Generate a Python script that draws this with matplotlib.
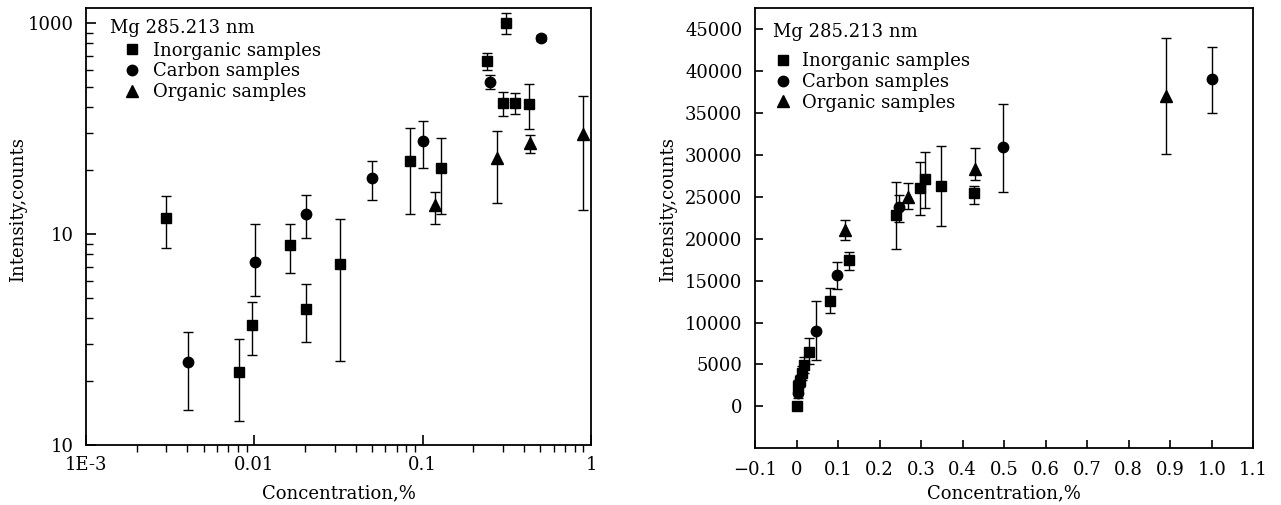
import matplotlib
matplotlib.use("Agg")
import matplotlib.pyplot as plt
import numpy as np
from matplotlib.lines import Line2D
from matplotlib.ticker import FixedLocator, FixedFormatter, NullFormatter

plt.rcParams['font.family'] = ['DejaVu Serif']
FS = 13

# ---------------- Left (log-log) data ----------------
L_inorg_x = [0.003, 0.0081, 0.0097, 0.0163, 0.0203, 0.0323, 0.084, 0.128, 0.242, 0.313, 0.302, 0.354, 0.43]
L_inorg_y = [119, 22.2, 37.0, 88.7, 44.1, 71.8, 222, 206, 661, 997, 416, 416, 413]
L_inorg_lo = [86, 13.0, 26.7, 65.2, 30.7, 25.0, 125, 125, 598, 884, 364, 369, 313]
L_inorg_hi = [151, 31.8, 47.7, 111, 57.8, 118, 317, 286, 718, 1111, 472, 468, 514]

L_carb_x = [0.00406, 0.0101, 0.0203, 0.0502, 0.100, 0.251, 0.504]
L_carb_y = [24.7, 73.9, 124, 184, 275, 527, 847]
L_carb_lo = [14.7, 50.8, 95.9, 145, 205, 485, 820]
L_carb_hi = [34.4, 111, 153, 222, 344, 567, 875]

L_org_x = [0.119, 0.275, 0.435, 0.90]
L_org_y = [137, 230, 271, 297]
L_org_lo = [111, 141, 241, 130]
L_org_hi = [158, 308, 294, 451]

# ---------------- Right (linear) data ----------------
R_inorg_x = [0.001, 0.004, 0.008, 0.014, 0.018, 0.030, 0.0815, 0.1256, 0.239, 0.297, 0.309, 0.349, 0.427]
R_inorg_y = [0, 2400, 3000, 4000, 4950, 6520, 12600, 17410, 22860, 26040, 27150, 26320, 25450]
R_inorg_lo = [0, 1700, 2300, 3200, 4000, 5000, 11140, 16220, 18810, 22860, 23730, 21470, 24170]
R_inorg_hi = [0, 3100, 3700, 4800, 5900, 8150, 14120, 18480, 26830, 29150, 30410, 31120, 26300]

R_carb_x = [0.004, 0.048, 0.0975, 0.247, 0.4976, 1.0]
R_carb_y = [1600, 9030, 15710, 23850, 30930, 39040]
R_carb_lo = [1000, 5570, 14000, 22060, 25570, 34990]
R_carb_hi = [2500, 12600, 17220, 25250, 36060, 42930]

R_org_x = [0.116, 0.2686, 0.429, 0.889]
R_org_y = [21070, 25040, 28310, 37090]
R_org_lo = [19880, 23540, 27030, 30100]
R_org_hi = [22260, 26640, 30890, 43930]

legend_labels = ["Inorganic samples", "Carbon samples", "Organic samples"]
title_text = "Mg 285.213 nm"
L_xticks = [0.001, 0.01, 0.1, 1]
L_xticklabels = ["1E-3", "0.01", "0.1", "1"]
L_yticks = [10, 100, 1000]
L_yticklabels = ["10", "10", "1000"]
R_xticks = [-0.1, 0, 0.1, 0.2, 0.3, 0.4, 0.5, 0.6, 0.7, 0.8, 0.9, 1.0, 1.1]
R_xticklabels = ["\u22120.1", "0", "0.1", "0.2", "0.3", "0.4", "0.5", "0.6", "0.7", "0.8", "0.9", "1.0", "1.1"]
R_yticks = [0, 5000, 10000, 15000, 20000, 25000, 30000, 35000, 40000, 45000]

markers = ['s', 'o', '^']
msizes = [6.5, 7.5, 8]

fig = plt.figure(figsize=(12.81, 5.05), dpi=100)
axL = fig.add_axes([86/1281, 1-445/505, (591-86)/1281, (445-8)/505])
axR = fig.add_axes([755/1281, 1-448.3/505, (1253.3-755)/1281, (448.3-8.3)/505])


def draw(ax, xs, ys, los, his, m, ms):
    ys = np.array(ys, float)
    yerr = np.vstack([ys - np.array(los, float), np.array(his, float) - ys])
    ax.errorbar(xs, ys, yerr=yerr, fmt=m, color='black', ms=ms, mec='black', mfc='black',
                ecolor='black', elinewidth=1.0, capsize=3.5, capthick=1.0, zorder=3)


# Left
draw(axL, L_inorg_x, L_inorg_y, L_inorg_lo, L_inorg_hi, markers[0], msizes[0])
draw(axL, L_carb_x, L_carb_y, L_carb_lo, L_carb_hi, markers[1], msizes[1])
draw(axL, L_org_x, L_org_y, L_org_lo, L_org_hi, markers[2], msizes[2])
axL.set_xscale('log')
axL.set_yscale('log')
axL.set_xlim(0.001, 1)
axL.set_ylim(10, 1178)
axL.xaxis.set_major_locator(FixedLocator(L_xticks))
axL.xaxis.set_major_formatter(FixedFormatter(L_xticklabels))
axL.xaxis.set_minor_formatter(NullFormatter())
axL.yaxis.set_major_locator(FixedLocator(L_yticks))
axL.yaxis.set_major_formatter(FixedFormatter(L_yticklabels))
axL.yaxis.set_minor_formatter(NullFormatter())
axL.tick_params(axis='x', which='major', direction='in', length=7, width=1.2, pad=8, labelsize=FS)
axL.tick_params(axis='x', which='minor', direction='out', length=5, width=1.0)
axL.tick_params(axis='y', which='major', direction='in', length=7, width=1.2, pad=9, labelsize=FS)
axL.tick_params(axis='y', which='minor', direction='in', length=5, width=1.0)

# Right
draw(axR, R_inorg_x, R_inorg_y, R_inorg_lo, R_inorg_hi, markers[0], msizes[0])
draw(axR, R_carb_x, R_carb_y, R_carb_lo, R_carb_hi, markers[1], msizes[1])
draw(axR, R_org_x, R_org_y, R_org_lo, R_org_hi, markers[2], msizes[2])
axR.set_xlim(-0.1, 1.1)
axR.set_ylim(-5000, 47500)
axR.set_xticks(R_xticks)
axR.set_xticklabels(R_xticklabels)
axR.set_yticks(R_yticks)
axR.set_yticklabels([str(v) for v in R_yticks])
axR.tick_params(axis='both', which='major', direction='in', length=6, width=1.2, labelsize=FS)
axR.tick_params(axis='x', pad=9)
axR.tick_params(axis='y', pad=9)

for ax in (axL, axR):
    for s in ax.spines.values():
        s.set_linewidth(1.3)
    ax.set_xlabel("Concentration,%", fontsize=FS)
    ax.set_ylabel("Intensity,counts", fontsize=FS)
    ax.xaxis.label.set_va('center')
    ax.yaxis.label.set_va('center')

axL.xaxis.set_label_coords(0.5, -(493-445)/437)
axR.xaxis.set_label_coords(0.4997, -(493-448.3)/440)
axL.yaxis.set_label_coords((18-86)/505, 1-(210-8)/437)
axR.yaxis.set_label_coords((668-755)/498.3, 1-(210-8.3)/440)

handles = [Line2D([], [], ls='none', marker=m, color='black', ms=s) for m, s in zip(markers, msizes)]

axL.text(0.0475, 0.9535, title_text, transform=axL.transAxes, fontsize=FS, va='center', ha='left')
axL.legend(handles, legend_labels, loc='upper left', bbox_to_anchor=(0.074, 0.923), frameon=False,
           fontsize=FS, handlelength=1.0, handletextpad=0.65, borderaxespad=0, borderpad=0,
           labelspacing=0.15)

axR.text(0.036, 0.947, title_text, transform=axR.transAxes, fontsize=FS, va='center', ha='left')
axR.legend(handles, legend_labels, loc='upper left', bbox_to_anchor=(0.0387, 0.90), frameon=False,
           fontsize=FS, handlelength=1.0, handletextpad=0.55, borderaxespad=0, borderpad=0,
           labelspacing=0.15)

fig.savefig("out.png", dpi=100)
